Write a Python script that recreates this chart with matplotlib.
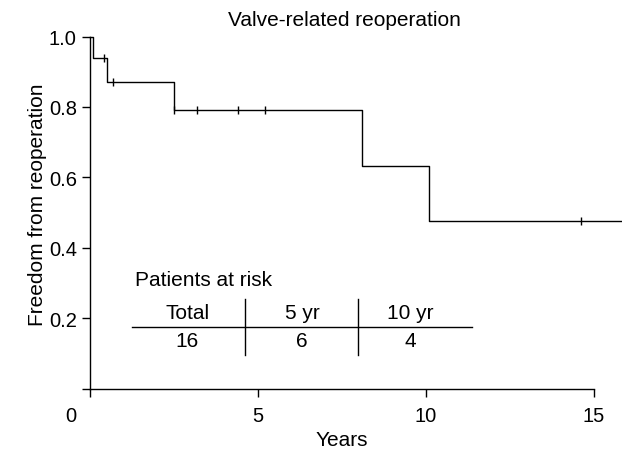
import matplotlib
matplotlib.use('Agg')
import matplotlib.pyplot as plt
from matplotlib.transforms import ScaledTranslation

plt.rcParams['font.family'] = ['Liberation Sans', 'DejaVu Sans']

# Kaplan-Meier step data
step_times = [0, 0.1, 0.5, 2.5, 8.1, 10.1, 15.8]
step_surv = [1.0, 0.938, 0.872, 0.791, 0.633, 0.475, 0.475]

# censored observations
censor_times = [0.42, 0.68, 2.5, 3.18, 4.4, 5.2, 14.6]
censor_surv = [0.938, 0.872, 0.791, 0.791, 0.791, 0.791, 0.475]

# patients at risk table
risk_headers = ['Total', '5 yr', '10 yr']
risk_counts = [16, 6, 4]

x_ticks = [0, 5, 10, 15]
y_ticks = [0, 0.2, 0.4, 0.6, 0.8, 1.0]
y_ticklabels = ['', '0.2', '0.4', '0.6', '0.8', '1.0']

W, H = 622, 456
fig = plt.figure(figsize=(W / 100, H / 100), dpi=100)
ax = fig.add_axes([90 / W, (H - 389.5) / H, 15.8 * 33.6 / W, 352 / H])

ax.step(step_times, step_surv, where='post', color='black', lw=1.0, clip_on=False)
ax.plot(censor_times, censor_surv, ls='none', marker='|', ms=6, mew=1.0, color='black')

ax.set_xlim(0, 15.8)
ax.set_ylim(0, 1.0)
for s in ['top', 'right']:
    ax.spines[s].set_visible(False)
ax.spines['left'].set_bounds(0, 1)
ax.spines['bottom'].set_bounds(0, 15)
for s in ['left', 'bottom']:
    ax.spines[s].set_linewidth(1.0)

ax.set_xticks(x_ticks)
ax.set_yticks(y_ticks)
ax.set_yticklabels(y_ticklabels)
ax.tick_params(direction='out', length=5.5, width=1.0, labelsize=14.5, pad=4)
ax.tick_params(axis='x', pad=7)

# shift the "0" label left, away from the y axis
lab0 = ax.xaxis.get_major_ticks()[0].label1
lab0.set_transform(lab0.get_transform() + ScaledTranslation(-0.19, 0, fig.dpi_scale_trans))

# patients at risk table
col_x = [2.89, 6.31, 9.52]
ax.text(1.34, 0.311, 'Patients at risk', fontsize=15, ha='left', va='center')
for cx, h, n in zip(col_x, risk_headers, risk_counts):
    ax.text(cx, 0.2145, h, fontsize=15, ha='center', va='center')
    ax.text(cx, 0.136, str(n), fontsize=15, ha='center', va='center')
ax.plot([1.24, 11.36], [0.1756, 0.1756], color='black', lw=1.0)
for vx in [4.61, 7.98]:
    ax.plot([vx, vx], [0.095, 0.254], color='black', lw=1.0)

fig.text(344 / W, 1 - 20 / H, 'Valve-related reoperation', fontsize=15, ha='center', va='center')
fig.text(342 / W, 1 - 441 / H, 'Years', fontsize=15, ha='center', va='center')
fig.text(38 / W, 1 - 205 / H, 'Freedom from reoperation', fontsize=15,
         rotation=90, ha='center', va='center')

fig.savefig('out.png', dpi=100)
